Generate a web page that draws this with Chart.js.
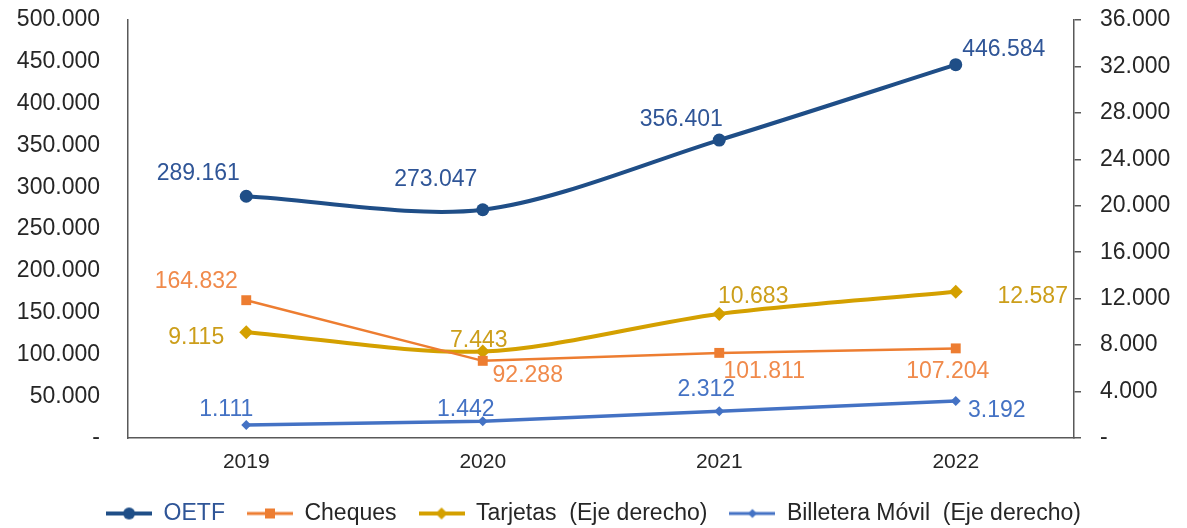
<!DOCTYPE html>
<html lang="es">
<head>
  <meta charset="UTF-8" />
  <title>Medios de pago 2019-2022</title>
  <script src="https://cdn.jsdelivr.net/npm/chart.js"></script>
  <style>
    html, body { margin: 0; padding: 0; background: #fff; }
    .chart-box { position: relative; width: 1187px; height: 528px; }
  </style>
</head>
<body>
  <div class="chart-box">
    <canvas id="pagosChart"></canvas>
  </div>
  <script>
    // Datos
    const years = ['2019', '2020', '2021', '2022'];
    const oetf = [289161, 273047, 356401, 446584];
    const cheques = [164832, 92288, 101811, 107204];
    const tarjetas = [9115, 7443, 10683, 12587];
    const billetera = [1111, 1442, 2312, 3192];
    const leftTicks = [0, 50000, 100000, 150000, 200000, 250000, 300000, 350000, 400000, 450000, 500000];
    const rightTicks = [0, 4000, 8000, 12000, 16000, 20000, 24000, 28000, 32000, 36000];

    const FONT = "'Liberation Sans', Arial, sans-serif";

    function fmt(v) {
      if (v === 0) return '-';
      return String(Math.round(v)).replace(/\B(?=(\d{3})+(?!\d))/g, '.');
    }

    // small line+marker images for the legend
    function legendIcon(color, lineW, shape, size) {
      const c = document.createElement('canvas');
      c.width = 46; c.height = 16;
      const g = c.getContext('2d');
      g.strokeStyle = color;
      g.fillStyle = color;
      g.lineWidth = lineW;
      g.beginPath(); g.moveTo(0, 8); g.lineTo(46, 8); g.stroke();
      g.beginPath();
      if (shape === 'circle') g.arc(23, 8, size, 0, Math.PI * 2);
      else if (shape === 'rect') g.rect(23 - size, 8 - size, size * 2, size * 2);
      else { g.moveTo(23, 8 - size); g.lineTo(23 + size, 8); g.lineTo(23, 8 + size); g.lineTo(23 - size, 8); g.closePath(); }
      g.fill();
      return c;
    }

    const icons = [
      legendIcon('#1F4E87', 4, 'circle', 6),
      legendIcon('#ED7D31', 3, 'rect', 5),
      legendIcon('#D4A000', 4, 'diamond', 6),
      legendIcon('#4472C4', 3, 'diamond', 4.5)
    ];
    const legendColors = ['#2F5597', '#262626', '#262626', '#262626'];

    // etiquetas de datos
    const valueLabels = {
      id: 'valueLabels',
      afterDatasetsDraw(chart) {
        const ctx = chart.ctx;
        ctx.save();
        ctx.font = '23px ' + FONT;
        ctx.textAlign = 'center';
        ctx.textBaseline = 'middle';
        chart.data.datasets.forEach((ds, i) => {
          const meta = chart.getDatasetMeta(i);
          meta.data.forEach((pt, j) => {
            const off = ds.labelOffsets[j];
            ctx.fillStyle = ds.labelColor;
            ctx.fillText(fmt(ds.data[j]), pt.x + off[0], pt.y + off[1]);
          });
        });
        ctx.restore();
      }
    };

    // keep the plot top close to the canvas top like the original
    function fixVertical(scale, width) {
      scale.width = width;
      scale.paddingTop = 20;
      scale.paddingBottom = 12;
    }

    new Chart(document.getElementById('pagosChart'), {
      type: 'line',
      data: {
        labels: years,
        datasets: [
          {
            label: 'OETF',
            data: oetf,
            yAxisID: 'y',
            borderColor: '#1F4E87',
            backgroundColor: '#1F4E87',
            borderWidth: 4,
            tension: 0.3,
            pointStyle: 'circle',
            pointRadius: 6.5,
            pointBorderWidth: 0,
            labelColor: '#2F5597',
            labelOffsets: [[-48, -23], [-47, -30], [-38, -20], [48, -15]]
          },
          {
            label: 'Cheques',
            data: cheques,
            yAxisID: 'y',
            borderColor: '#ED7D31',
            backgroundColor: '#ED7D31',
            borderWidth: 2.5,
            tension: 0,
            pointStyle: 'rect',
            pointRadius: 7,
            pointBorderWidth: 0,
            labelColor: '#F08A4B',
            labelOffsets: [[-50, -19], [45, 15], [45, 19], [-8, 23]]
          },
          {
            label: 'Tarjetas  (Eje derecho)',
            data: tarjetas,
            yAxisID: 'y1',
            borderColor: '#D4A000',
            backgroundColor: '#D4A000',
            borderWidth: 4,
            tension: 0.3,
            pointStyle: 'rectRot',
            pointRadius: 7,
            pointBorderWidth: 0,
            labelColor: '#CC9E1A',
            labelOffsets: [[-50, 5], [-4, -11], [34, -17], [77, 5]]
          },
          {
            label: 'Billetera Móvil  (Eje derecho)',
            data: billetera,
            yAxisID: 'y1',
            borderColor: '#4472C4',
            backgroundColor: '#4472C4',
            borderWidth: 3.5,
            tension: 0,
            pointStyle: 'rectRot',
            pointRadius: 5,
            pointBorderWidth: 0,
            labelColor: '#4472C4',
            labelOffsets: [[-20, -15], [-17, -12], [-13, -21], [41, 10]]
          }
        ]
      },
      options: {
        responsive: true,
        maintainAspectRatio: false,
        animation: false,
        layout: { padding: { top: 0, bottom: -7, left: 0, right: 0 } },
        plugins: {
          tooltip: { enabled: false },
          legend: {
            position: 'bottom',
            labels: {
              font: { family: FONT, size: 23 },
              usePointStyle: true,
              pointStyleWidth: 46,
              padding: 22,
              generateLabels(chart) {
                return chart.data.datasets.map((ds, i) => ({
                  text: ds.label,
                  fillStyle: ds.borderColor,
                  strokeStyle: ds.borderColor,
                  fontColor: legendColors[i],
                  pointStyle: icons[i],
                  lineWidth: 0,
                  hidden: false,
                  datasetIndex: i
                }));
              }
            }
          }
        },
        scales: {
          x: {
            offset: true,
            grid: { display: true, drawOnChartArea: false, drawTicks: false },
            border: { display: true, color: '#595959', width: 1.5 },
            ticks: {
              color: '#262626',
              padding: 12,
              font: { family: "'Liberation Sans Narrow', 'Liberation Sans', Arial, sans-serif", size: 21 }
            },
            afterFit(scale) { scale.height = 42; }
          },
          y: {
            position: 'left',
            min: 0,
            max: 500000,
            afterBuildTicks(scale) { scale.ticks = leftTicks.map(v => ({ value: v })); },
            grid: { display: true, drawOnChartArea: false, drawTicks: false },
            border: { display: true, color: '#595959', width: 1.5 },
            ticks: {
              color: '#262626',
              padding: 28,
              font: { family: FONT, size: 23 },
              callback: v => fmt(v)
            },
            afterFit(scale) { fixVertical(scale, 128); }
          },
          y1: {
            position: 'right',
            min: 0,
            max: 36000,
            afterBuildTicks(scale) { scale.ticks = rightTicks.map(v => ({ value: v })); },
            grid: { display: true, drawOnChartArea: false, drawTicks: true, tickLength: 7, color: '#595959', lineWidth: 1.5 },
            border: { display: true, color: '#595959', width: 1.5 },
            ticks: {
              color: '#262626',
              padding: 19,
              font: { family: FONT, size: 23 },
              callback: v => fmt(v)
            },
            afterFit(scale) { fixVertical(scale, 113); }
          }
        }
      },
      plugins: [valueLabels]
    });
  </script>
</body>
</html>
